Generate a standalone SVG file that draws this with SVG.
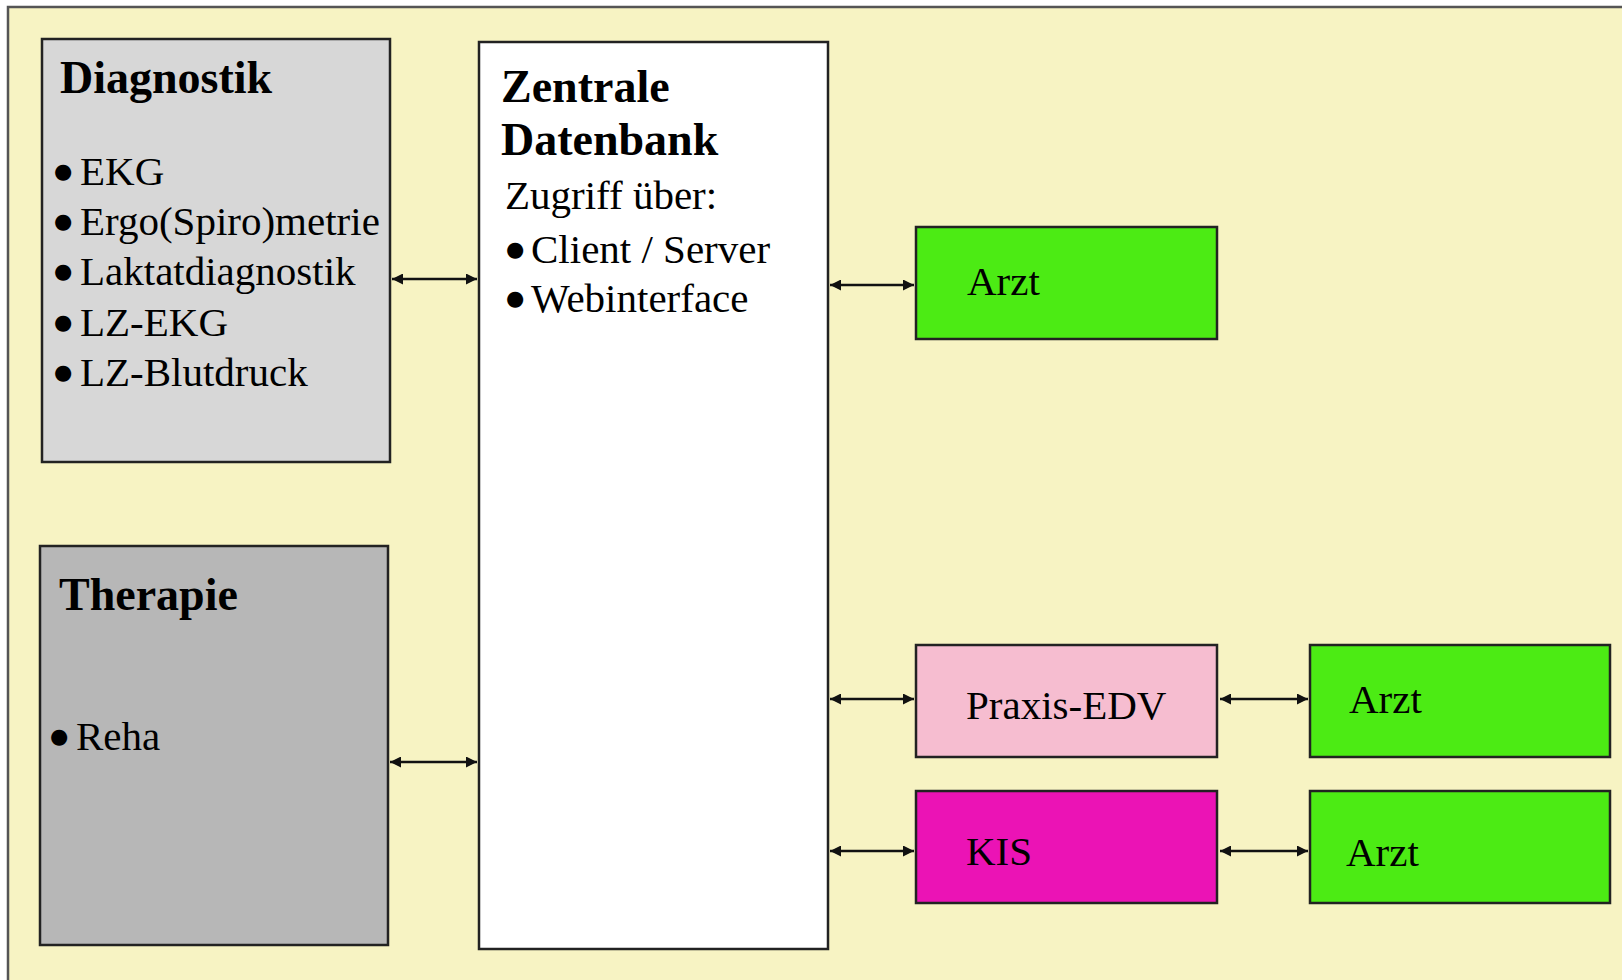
<svg xmlns="http://www.w3.org/2000/svg" width="1622" height="980" viewBox="0 0 1622 980">
<defs>
<style>
.box{stroke:#222;stroke-width:2.5}
.t{font-family:"Liberation Serif","Times New Roman",serif;font-size:41px;fill:#000}
.b{font-family:"Liberation Serif","Times New Roman",serif;font-size:46px;font-weight:bold;fill:#000}
.bu{font-family:"DejaVu Sans",sans-serif;font-size:21px}
.c{stroke:#111;stroke-width:2.5;fill:none;marker-start:url(#ah);marker-end:url(#ah)}
</style>
<marker id="ah" viewBox="0 0 10 10" refX="10" refY="5" markerWidth="11" markerHeight="11" markerUnits="userSpaceOnUse" orient="auto-start-reverse">
<path d="M0,0 L10,5 L0,10 z" fill="#111"/>
</marker>
</defs>
<rect x="0" y="0" width="1622" height="980" fill="#ffffff"/>
<rect x="8" y="7" width="1630" height="990" fill="#F7F3C3" stroke="#555" stroke-width="2.5"/>

<g id="diagnostik">
<rect class="box" x="42" y="39" width="348" height="423" fill="#D7D7D7"/>
<text class="b" x="60" y="93">Diagnostik</text>
<text class="t"><tspan class="bu" x="54" y="178">●</tspan><tspan x="80" y="185">EKG</tspan></text>
<text class="t"><tspan class="bu" x="54" y="228">●</tspan><tspan x="80" y="235">Ergo(Spiro)metrie</tspan></text>
<text class="t"><tspan class="bu" x="54" y="278">●</tspan><tspan x="80" y="285">Laktatdiagnostik</tspan></text>
<text class="t"><tspan class="bu" x="54" y="329">●</tspan><tspan x="80" y="336">LZ-EKG</tspan></text>
<text class="t"><tspan class="bu" x="54" y="379">●</tspan><tspan x="80" y="386">LZ-Blutdruck</tspan></text>
</g>

<g id="therapie">
<rect class="box" x="40" y="546" width="348" height="399" fill="#B7B7B7"/>
<text class="b" x="59" y="610">Therapie</text>
<text class="t"><tspan class="bu" x="50" y="743">●</tspan><tspan x="76" y="750">Reha</tspan></text>
</g>

<g id="zentrale">
<rect class="box" x="479" y="42" width="349" height="907" fill="#FFFFFF"/>
<text class="b" x="501" y="102">Zentrale</text>
<text class="b" x="501" y="155">Datenbank</text>
<text class="t" x="505" y="209">Zugriff über:</text>
<text class="t"><tspan class="bu" x="506" y="256">●</tspan><tspan x="531" y="263">Client / Server</tspan></text>
<text class="t"><tspan class="bu" x="506" y="305">●</tspan><tspan x="531" y="312">Webinterface</tspan></text>
</g>

<g id="arzt1">
<rect class="box" x="916" y="227" width="301" height="112" fill="#4CEB14"/>
<text class="t" x="967" y="295">Arzt</text>
</g>

<g id="praxis">
<rect class="box" x="916" y="645" width="301" height="112" fill="#F6BDD0"/>
<text class="t" x="966" y="719">Praxis-EDV</text>
</g>

<g id="kis">
<rect class="box" x="916" y="791" width="301" height="112" fill="#EB13B5"/>
<text class="t" x="966" y="865">KIS</text>
</g>

<g id="arzt2">
<rect class="box" x="1310" y="645" width="300" height="112" fill="#4CEB14"/>
<text class="t" x="1349" y="713">Arzt</text>
</g>

<g id="arzt3">
<rect class="box" x="1310" y="791" width="300" height="112" fill="#4CEB14"/>
<text class="t" x="1346" y="866">Arzt</text>
</g>

<g id="connectors">
<line class="c" x1="392" y1="279" x2="477" y2="279"/>
<line class="c" x1="390" y1="762" x2="477" y2="762"/>
<line class="c" x1="830" y1="285" x2="914" y2="285"/>
<line class="c" x1="830" y1="699" x2="914" y2="699"/>
<line class="c" x1="830" y1="851" x2="914" y2="851"/>
<line class="c" x1="1220" y1="699" x2="1308" y2="699"/>
<line class="c" x1="1220" y1="851" x2="1308" y2="851"/>
</g>
</svg>
